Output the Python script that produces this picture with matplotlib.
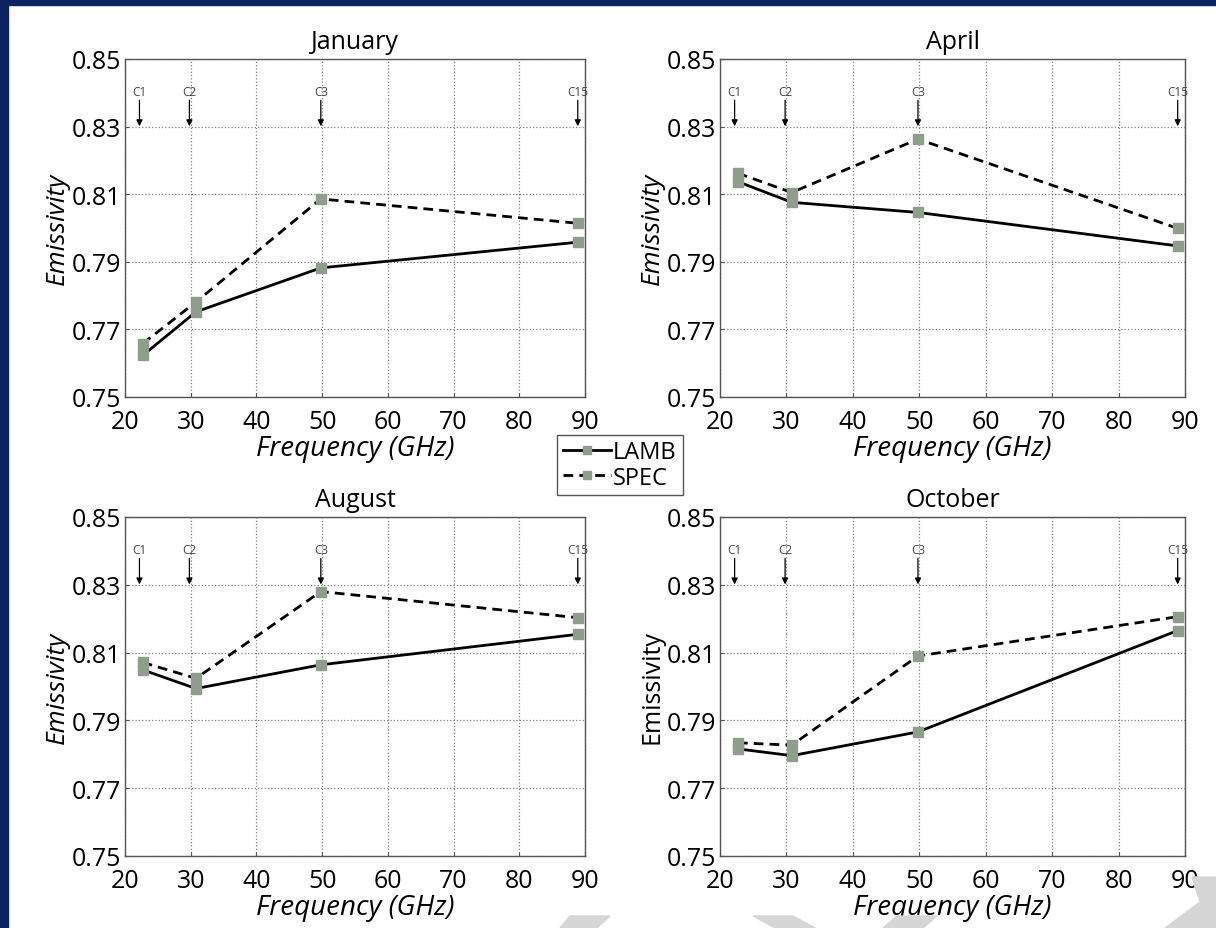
import numpy as np
import matplotlib
matplotlib.use("Agg")
import matplotlib.pyplot as plt
from matplotlib.patches import Polygon, Rectangle
from matplotlib.lines import Line2D

plt.rcParams['font.family'] = ['Open Sans', 'DejaVu Sans']

# frequencies of the AMSU channels (as placed in the figure)
freq = [22.7, 30.8, 49.8, 88.9]
chan_x = [22.2, 29.8, 49.8, 88.9]
chan_lbl = ["C1", "C2", "C3", "C15"]

months = ["January", "April", "August", "October"]
lamb = {
    "January": [0.7623, 0.7752, 0.7882, 0.7958],
    "April":   [0.8137, 0.8076, 0.8046, 0.7947],
    "August":  [0.8049, 0.7994, 0.8064, 0.8154],
    "October": [0.7816, 0.7796, 0.7866, 0.8165],
}
spec = {
    "January": [0.7658, 0.7781, 0.8086, 0.8014],
    "April":   [0.8162, 0.8105, 0.8263, 0.7999],
    "August":  [0.8071, 0.8024, 0.8280, 0.8203],
    "October": [0.7834, 0.7827, 0.8090, 0.8206],
}
yticks = [0.75, 0.77, 0.79, 0.81, 0.83, 0.85]
xticks = [20, 30, 40, 50, 60, 70, 80, 90]

W, H = 1216, 929
fig = plt.figure(figsize=(W / 100, H / 100), dpi=100)
fig.patch.set_facecolor("white")

mk = "#8f9e8c"

# axes boxes in pixels: left, top, right, bottom
boxes = [(125, 60, 585, 398), (720, 60, 1185, 398),
         (125, 518, 585, 857), (720, 518, 1185, 857)]

for m, (l, t, r, b) in zip(months, boxes):
    ax = fig.add_axes([l / W, 1 - b / H, (r - l) / W, (b - t) / H])
    ax.plot(freq, lamb[m], '-', color='black', lw=2, marker='s', ms=6.5,
            mfc=mk, mec=mk, label='LAMB')
    ax.plot(freq, spec[m], '--', color='black', lw=2, marker='s', ms=6.5,
            mfc=mk, mec=mk, label='SPEC', dashes=(3.5, 2.2))
    ax.set_xlim(20, 90)
    ax.set_ylim(0.75, 0.85)
    ax.set_xticks(xticks)
    ax.set_yticks(yticks)
    ax.set_yticklabels(["%.2f" % v for v in yticks])
    ax.tick_params(labelsize=18, direction='in', length=3, color='#555555')
    ax.tick_params(axis='x', pad=9)
    ax.tick_params(axis='y', pad=3)
    ax.grid(True, ls=':', color='#808080', lw=0.9)
    for s in ax.spines.values():
        s.set_color('#555555')
        s.set_linewidth(1)
    ax.set_title(m, fontsize=18, pad=8)
    ax.set_xlabel("Frequency (GHz)", fontsize=20, style='italic', labelpad=0)
    if m == "October":
        ax.set_ylabel("Emissivity", fontsize=18, labelpad=1)
    else:
        ax.set_ylabel("Emissivity", fontsize=19, style='italic', labelpad=1)
    for cx, cl in zip(chan_x, chan_lbl):
        ax.annotate("", xy=(cx, 0.8301), xytext=(cx, 0.8378),
                    arrowprops=dict(arrowstyle='-|>', color='black', lw=0.9,
                                    mutation_scale=9, shrinkA=0, shrinkB=0))
        ax.text(cx, 0.8405, cl, fontsize=8.5, color='#444444',
                ha='center', va='center')

# shared legend
handles = [Line2D([], [], color='black', lw=2, marker='s', ms=6, mfc=mk, mec=mk),
           Line2D([], [], color='black', lw=2, ls='--', dashes=(3.5, 2.2), marker='s',
                  ms=6, mfc=mk, mec=mk)]
leg = fig.legend(handles, ['LAMB', 'SPEC'], loc='center',
                 bbox_to_anchor=(620 / W, 1 - 466 / H), fontsize=17,
                 handlelength=2.0, handletextpad=0.1, borderpad=0.25,
                 labelspacing=0.05, fancybox=False, framealpha=1)
leg.get_frame().set_edgecolor('#555555')
leg.get_frame().set_linewidth(1)

# slide frame (navy) and watermark chevrons
navy = "#0b2361"
fig.patches.append(Rectangle((0, 0), 8 / W, 1, transform=fig.transFigure,
                             color=navy, zorder=10))
fig.patches.append(Rectangle((0, 1 - 6 / H), 1, 6 / H, transform=fig.transFigure,
                             color=navy, zorder=10))
shapes = [
    [(560, 929), (570, 917), (610, 917), (597, 929)],
    [(753, 917), (793, 917), (815, 929), (775, 929)],
    [(883, 929), (897, 917), (937, 917), (923, 929)],
    [(1192, 878), (1216, 878), (1216, 929), (1165, 929), (1200, 903)],
]
for sh in shapes:
    pts = [(x / W, 1 - y / H) for x, y in sh]
    fig.patches.append(Polygon(pts, closed=True, transform=fig.transFigure,
                               color='#d6d6d6', zorder=0))

plt.savefig("out.png", dpi=100)
